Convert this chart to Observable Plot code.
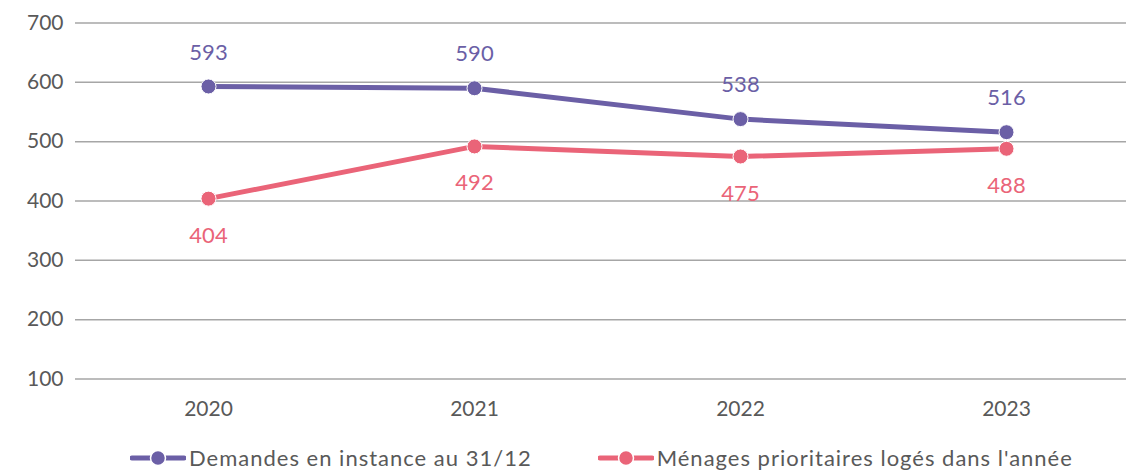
<!DOCTYPE html>
<html>
<head>
<meta charset="utf-8">
<script src="https://cdn.jsdelivr.net/npm/d3@7"></script>
<script src="https://cdn.jsdelivr.net/npm/@observablehq/plot@0.6"></script>
<style>
  html, body { margin: 0; padding: 0; background: #fff; overflow: hidden; }
  body { width: 1126px; height: 470px; font-family: Lato, "Open Sans", sans-serif; }
  #chart svg { display: block; overflow: visible; }
  #legend { position: absolute; top: 444px; left: 130px; display: flex; align-items: center; font-size: 22px; letter-spacing: 1px; color: #595959; }
  .item { display: flex; align-items: center; }
  .item svg { display: block; margin-right: 3px; }
</style>
</head>
<body>
<div id="chart"></div>
<div id="legend"></div>
<script>
const years = ["2020", "2021", "2022", "2023"];
const demandes = [593, 590, 538, 516];
const menages = [404, 492, 475, 488];
const seriesNames = ["Demandes en instance au 31/12", "Ménages prioritaires logés dans l'année"];
const seriesColors = ["#6B5FA6", "#EA6478"];
const yTicks = [100, 200, 300, 400, 500, 600, 700];

const data = [];
years.forEach((y, i) => {
  data.push({year: y, value: demandes[i], series: seriesNames[0]});
  data.push({year: y, value: menages[i], series: seriesNames[1]});
});
const d0 = data.filter(d => d.series === seriesNames[0]);
const d1 = data.filter(d => d.series === seriesNames[1]);

const chart = Plot.plot({
  width: 1126,
  height: 442,
  marginLeft: 75,
  marginRight: -13,
  marginTop: 22.5,
  marginBottom: 63.5,
  style: {fontFamily: "Lato, 'Open Sans', sans-serif", fontSize: "20px", color: "#595959", background: "transparent"},
  x: {type: "point", domain: years, padding: 0.5, label: null},
  y: {domain: [100, 700], label: null},
  color: {domain: seriesNames, range: seriesColors},
  marks: [
    Plot.ruleY(yTicks, {stroke: "#a6a6a6", strokeWidth: 1.5}),
    Plot.axisY(yTicks, {tickSize: 0, tickPadding: 12, fontSize: 21, fill: "#595959", label: null, marginLeft: 75}),
    Plot.axisX({tickSize: 0, tickPadding: 22, fontSize: 21, fill: "#595959", label: null}),
    Plot.line(data, {x: "year", y: "value", z: "series", stroke: "series", strokeWidth: 5}),
    Plot.dot(data, {x: "year", y: "value", fill: "series", r: 7.5, stroke: "white", strokeWidth: 1}),
    Plot.text(d0, {x: "year", y: "value", text: d => String(d.value), dy: -34, fill: seriesColors[0], fontSize: 22}),
    Plot.text(d1, {x: "year", y: "value", text: d => String(d.value), dy: 37, fill: seriesColors[1], fontSize: 22})
  ]
});
document.getElementById("chart").appendChild(chart);

const legend = document.getElementById("legend");
seriesNames.forEach((name, i) => {
  const item = document.createElement("div");
  item.className = "item";
  item.style.marginRight = i === 0 ? "66px" : "0";
  const c = seriesColors[i];
  item.innerHTML = `<svg width="56" height="20"><line x1="2" y1="10" x2="54" y2="10" stroke="${c}" stroke-width="5" stroke-linecap="round"/><circle cx="28" cy="10" r="7.5" fill="${c}" stroke="white" stroke-width="1.5"/></svg><span>${name}</span>`;
  legend.appendChild(item);
});
</script>
</body>
</html>
